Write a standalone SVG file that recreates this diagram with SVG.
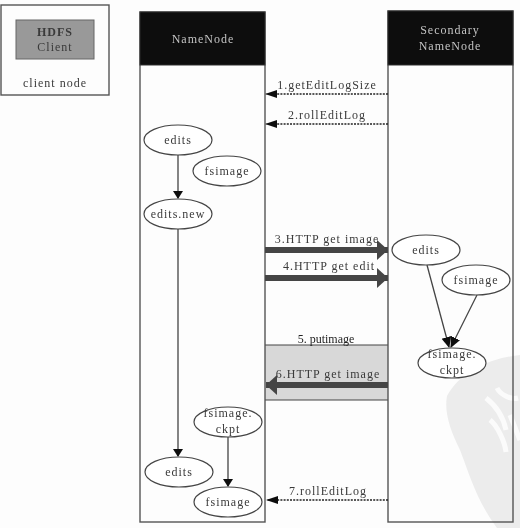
<svg xmlns="http://www.w3.org/2000/svg" width="520" height="528" viewBox="0 0 520 528">
<style>
text{font-family:"Liberation Serif","Times New Roman",serif;font-size:12px;letter-spacing:1px;fill:#3a3a3a;text-anchor:middle}
.box{fill:none;stroke:#555;stroke-width:1.4}
.head{fill:#0c0c0c;stroke:#333}
.headt{fill:#c4c4c4}
.e{fill:#fff;stroke:#444;stroke-width:1.2}
.thin{stroke:#444;stroke-width:1.3;fill:none}
.dash{stroke:#222;stroke-width:1.4;stroke-dasharray:2 1.2;fill:none}
.fat{stroke:#444;stroke-width:6;fill:none}
</style>
<defs>
<filter id="scan" x="0" y="0" width="100%" height="100%"><feGaussianBlur stdDeviation="0.35"/></filter>
<marker id="a" markerUnits="userSpaceOnUse" markerWidth="8" markerHeight="11" refX="7" refY="5" orient="auto"><path d="M0 0L8 5L0 10Z" fill="#111"/></marker>
<marker id="b" markerUnits="userSpaceOnUse" markerWidth="11" markerHeight="11" refX="10" refY="5" orient="auto"><path d="M0 0L11 5L0 10Z" fill="#111"/></marker>
<marker id="f" markerUnits="userSpaceOnUse" markerWidth="11" markerHeight="20" refX="11" refY="10" orient="auto"><path d="M0 0L11 10L0 20Z" fill="#444"/></marker>
<marker id="t" markerUnits="userSpaceOnUse" markerWidth="12" markerHeight="9" refX="11" refY="4" orient="auto"><path d="M0 0L12 4L0 8Z" fill="#111"/></marker>
</defs>
<g filter="url(#scan)">
<rect width="520" height="528" fill="#fdfdfd"/>
<g id="watermark">
<path d="M520 355C490 358 460 372 447 396C444 412 450 430 460 450C468 470 476 500 497 528L520 528Z" fill="#ececec"/>
<path d="M486 398C495 405 503 416 506 430M497 388C500 394 510 400 518 398M490 420C497 425 505 442 506 452M510 415L520 440" fill="none" stroke="#fbfbfb" stroke-width="5"/>
</g>
<g id="client-node">
<rect x="1" y="5" width="108" height="90" class="box" stroke="#444"/>
<rect x="16" y="20" width="78" height="39" fill="#999" stroke="#666"/>
<text x="55" y="36" font-weight="bold">HDFS</text>
<text x="55" y="51">Client</text>
<text x="55" y="87">client node</text>
</g>
<g id="transfer-band">
<rect x="265" y="345" width="123" height="55" fill="#d8d8d8"/>
<path d="M265 345H388M265 400H388" stroke="#444" stroke-width="1.2"/>
<text x="326" y="343" style="letter-spacing:0;fill:#222">5. putimage</text>
</g>
<g id="namenode">
<rect x="140" y="12" width="125" height="510" class="box"/>
<rect x="140" y="12" width="125" height="53" class="head"/>
<text x="203" y="43" class="headt">NameNode</text>
</g>
<g id="secondary-namenode">
<rect x="388" y="11" width="125" height="511" class="box"/>
<rect x="388" y="11" width="125" height="54" class="head"/>
<text x="450" y="34" class="headt">Secondary</text>
<text x="450" y="50" class="headt">NameNode</text>
</g>
<g id="connectors">
<path d="M178 155V198" class="thin" marker-end="url(#a)"/>
<path d="M178 229V456" class="thin" marker-end="url(#a)"/>
<path d="M228 437V486" class="thin" marker-end="url(#a)"/>
<path d="M427 265L449 347" class="thin" marker-end="url(#b)"/>
<path d="M477 295L451 347" class="thin" marker-end="url(#b)"/>
<path d="M388 94H266" class="dash" marker-end="url(#t)"/>
<path d="M388 124H266" class="dash" marker-end="url(#t)"/>
<path d="M388 500H267" class="dash" marker-end="url(#t)"/>
<path d="M265 250H388" class="fat" marker-end="url(#f)"/>
<path d="M265 278H388" class="fat" marker-end="url(#f)"/>
<path d="M388 385H266" class="fat" marker-end="url(#f)"/>
<text x="327" y="89">1.getEditLogSize</text>
<text x="327" y="119">2.rollEditLog</text>
<text x="327" y="243">3.HTTP get image</text>
<text x="329" y="270">4.HTTP get edit</text>
<text x="328" y="378">6.HTTP get image</text>
<text x="328" y="495">7.rollEditLog</text>
</g>
<g id="nn-edits"><ellipse cx="178" cy="140" rx="34" ry="15" class="e"/><text x="178" y="144">edits</text></g>
<g id="nn-fsimage"><ellipse cx="227" cy="171" rx="34" ry="15" class="e"/><text x="227" y="175">fsimage</text></g>
<g id="nn-edits-new"><ellipse cx="178" cy="214" rx="34" ry="15" class="e"/><text x="178" y="218">edits.new</text></g>
<g id="nn-ckpt"><ellipse cx="228" cy="422" rx="34" ry="15" class="e"/><text x="228" y="417">fsimage.</text><text x="228" y="433">ckpt</text></g>
<g id="nn-edits-2"><ellipse cx="179" cy="472" rx="34" ry="15" class="e"/><text x="179" y="476">edits</text></g>
<g id="nn-fsimage-2"><ellipse cx="228" cy="502" rx="34" ry="15" class="e"/><text x="228" y="506">fsimage</text></g>
<g id="snn-edits"><ellipse cx="426" cy="250" rx="34" ry="15" class="e"/><text x="426" y="254">edits</text></g>
<g id="snn-fsimage"><ellipse cx="476" cy="280" rx="34" ry="15" class="e"/><text x="476" y="284">fsimage</text></g>
<g id="snn-ckpt"><ellipse cx="452" cy="363" rx="34" ry="15" class="e"/><text x="452" y="358">fsimage.</text><text x="452" y="374">ckpt</text></g>
</g>
</svg>
